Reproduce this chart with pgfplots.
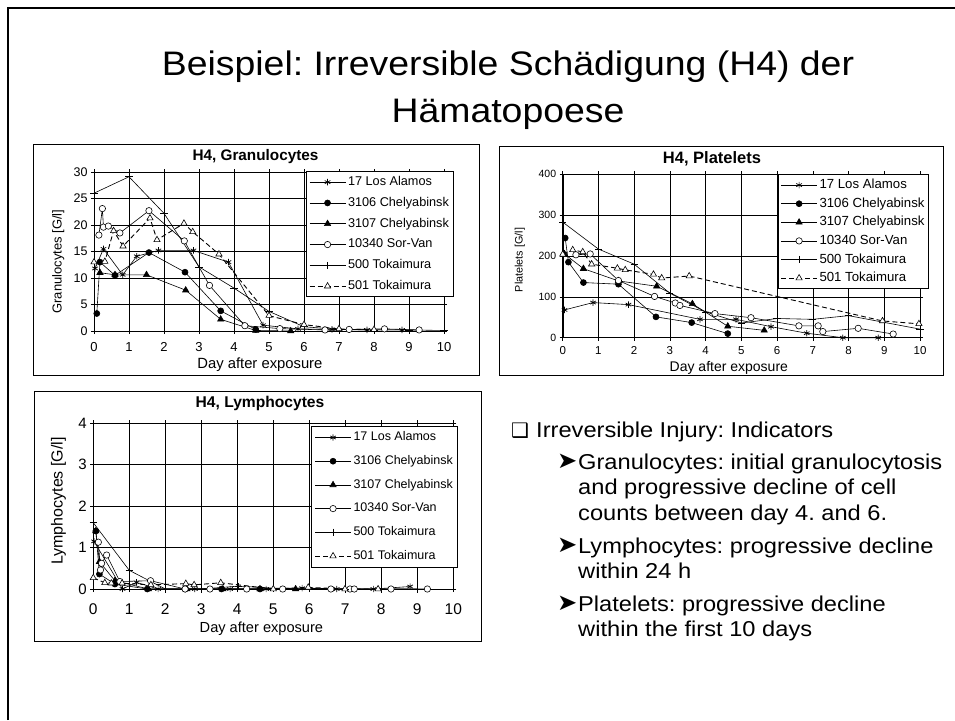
\documentclass[border=0pt]{standalone}
\usepackage{pgfplots}
\pgfplotsset{compat=1.18}
\usepackage{fontspec}
\setmainfont{Liberation Sans}
\newfontfamily\slidefont[FakeStretch=1.1]{Liberation Sans}
\newfontfamily\symfont{DejaVu Sans}
\newcommand{\fs}[1]{\fontsize{#1pt}{#1pt}\selectfont}
\frenchspacing

\pgfplotsset{
  panel/.style={
    scale only axis, anchor=south west, clip=false,
    xmin=0, xmax=10, xtick={0,...,10},
    grid=major, major grid style={black, line width=0.6pt},
    axis line style={black, line width=0.8pt},
    tick align=outside, major tick length=3pt,
    tick style={black, line width=0.6pt},
    /pgf/number format/assume math mode=true,
    legend cell align=left,
    legend image code/.code={\draw[mark repeat=2,mark phase=2,##1] plot coordinates {(0pt,0pt) (18pt,0pt) (36pt,0pt)};},
  },
  LA/.style={black, line width=0.6pt, mark=asterisk, mark size=3.2pt, mark options={solid,line width=0.7pt}},
  CA/.style={black, line width=0.6pt, mark=*, mark size=3pt, mark options={solid, fill=black}},
  CB/.style={black, line width=0.6pt, mark=triangle*, mark size=3.6pt, mark options={solid, fill=black}},
  SV/.style={black, line width=0.6pt, mark=*, mark size=3.2pt, mark options={solid, fill=white, draw=black}},
  TA/.style={black, line width=0.6pt, mark=+, mark size=3.6pt, mark options={solid}},
  TB/.style={black, line width=0.9pt, dash pattern=on 5pt off 3pt, mark=triangle*, mark size=3.6pt, mark options={solid, fill=white, line width=0.6pt}},
}

\begin{document}
\begin{tikzpicture}
\fill[white] (0pt,0pt) rectangle (955pt,-720pt);
\draw[black, line width=2pt] (8pt,-720pt) -- (8pt,-8pt) -- (955pt,-8pt);

% slide title
\node[anchor=base, inner sep=0pt, font=\slidefont\fs{34}] at (508pt,-75pt) {Beispiel: Irreversible Schädigung (H4) der};
\node[anchor=base, inner sep=0pt, font=\slidefont\fs{34}] at (508pt,-122pt) {Hämatopoese};

% panel frames
\draw[black, line width=1pt, fill=white] (33pt,-144pt) rectangle (479pt,-375pt);
\draw[black, line width=1pt, fill=white] (499pt,-146pt) rectangle (943pt,-375pt);
\draw[black, line width=1pt, fill=white] (34pt,-391pt) rectangle (481pt,-641pt);

% panel titles
\node[font=\bfseries\fs{15.3}, inner sep=0pt] at (255.5pt,-157pt) {H4, Granulocytes};
\node[font=\bfseries\fs{16.5}, inner sep=0pt] at (712pt,-159pt) {H4, Platelets};
\node[font=\bfseries\fs{15.6}, inner sep=0pt] at (260pt,-403pt) {H4, Lymphocytes};

% ---------------- Granulocytes
\begin{axis}[panel, at={(94pt,-331pt)}, width=350pt, height=159pt,
  ymin=0, ymax=30, ytick={0,5,...,30},
  xticklabel style={font=\fs{13}, yshift=-5pt}, yticklabel style={font=\fs{12.5}},
  xlabel={Day after exposure}, xlabel style={font=\fs{14.8}, at={(axis description cs:0.474,-0.214)}, anchor=center},
  ylabel={Granulocytes [G/l]}, ylabel style={font=\fs{13}, at={(axis description cs:-0.102,0.437)}, anchor=center},
  legend style={at={(0.606,1.006)}, anchor=north west, draw=black, line width=1pt, fill=white,
    font=\fs{12.7}, row sep=4.6pt, inner sep=2.5pt, nodes={inner sep=2pt, text height=9.5pt, text depth=2.7pt}},
]
\addplot[LA] coordinates {(0.03,11.8) (0.27,15.5) (0.82,10.6) (1.22,14.1) (1.84,15.2) (2.84,15.2) (3.84,13.0) (4.83,1.1) (5.83,0.4) (6.8,0.3) (7.8,0.2) (8.8,0.2)};
\addlegendentry{17 Los Alamos}
\addplot[CA] coordinates {(0.08,3.3) (0.17,13.0) (0.6,10.5) (1.57,14.8) (2.6,11.1) (3.62,3.8) (4.62,0.3)};
\addlegendentry{3106 Chelyabinsk}
\addplot[CB] coordinates {(0.17,11.0) (0.6,10.6) (1.5,10.6) (2.62,7.7) (3.62,2.2) (4.62,0.1) (5.62,0.0)};
\addlegendentry{3107 Chelyabinsk}
\addplot[SV] coordinates {(0.14,18.1) (0.24,23.1) (0.27,19.6) (0.41,19.8) (0.74,18.5) (1.57,22.7) (2.58,17.0) (3.3,8.6) (4.31,1.0) (5.31,0.45) (6.6,0.2) (7.29,0.3) (8.3,0.4) (9.29,0.2)};
\addlegendentry{10340 Sor-Van}
\addplot[TA] coordinates {(0,26.0) (1.0,29.1) (2.0,22.2) (3.0,12.1) (4.0,8.1) (5.0,3.7) (6.0,0.8) (7.0,0.3) (8.0,0.2) (9.0,0.2) (10.0,0.1)};
\addlegendentry{500 Tokaimura}
\addplot[TB] coordinates {(0,13.0) (0.31,13.1) (0.56,18.9) (0.83,16.0) (1.6,21.3) (1.8,17.2) (2.57,20.3) (2.82,18.7) (3.57,14.5) (5.0,2.9) (6.0,1.2) (7.0,0.4) (8.0,0.25)};
\addlegendentry{501 Tokaimura}
\end{axis}

% ---------------- Platelets
\begin{axis}[panel, at={(562.7pt,-337.7pt)}, width=357.3pt, height=163.4pt,
  ymin=0, ymax=400, ytick={0,100,...,400},
  xticklabel style={font=\fs{11.5}, yshift=-2pt}, yticklabel style={font=\fs{10.5}},
  xlabel={Day after exposure}, xlabel style={font=\fs{14}, at={(axis description cs:0.465,-0.182)}, anchor=center},
  ylabel={Platelets [G/l]}, ylabel style={font=\fs{10.8}, at={(axis description cs:-0.12,0.475)}, anchor=center},
  legend style={at={(0.603,1.0)}, anchor=north west, draw=black, line width=1pt, fill=white,
    font=\fs{13.2}, row sep=2pt, inner sep=2pt, nodes={inner sep=2pt, text height=9.8pt, text depth=2.8pt}},
]
\draw[black, line width=2pt] (rel axis cs:0,0) -- (rel axis cs:0,1);
\addplot[LA] coordinates {(0.05,68) (0.85,86) (1.84,81) (3.84,45) (4.85,45) (5.83,27) (6.83,11) (7.84,0) (8.83,0)};
\addlegendentry{17 Los Alamos}
\addplot[CA] coordinates {(0.07,244) (0.16,185) (0.58,135) (1.56,131) (2.61,51) (3.61,37) (4.62,10)};
\addlegendentry{3106 Chelyabinsk}
\addplot[CB] coordinates {(0.05,205) (0.58,169) (1.56,139) (2.63,126) (3.63,83) (4.62,28) (5.64,18)};
\addlegendentry{3107 Chelyabinsk}
\addplot[SV] coordinates {(0.37,203) (0.77,205) (1.56,140) (2.57,101) (3.15,85) (3.28,79) (4.26,59) (5.27,49) (6.61,29) (7.15,29) (7.28,15) (8.27,23) (9.25,9)};
\addlegendentry{10340 Sor-Van}
\addplot[TA] coordinates {(0,283) (1.0,217) (2.0,180) (3.0,109) (4.0,63) (5.0,36) (6.0,47) (7.0,45) (8.0,54) (10.0,21)};
\addlegendentry{500 Tokaimura}
\addplot[TB] coordinates {(0,204) (0.28,215) (0.56,210) (0.81,180) (1.53,170) (1.75,166) (2.54,155) (2.77,146) (3.54,151) (8.95,41) (9.97,34)};
\addlegendentry{501 Tokaimura}
\end{axis}

% ---------------- Lymphocytes
\begin{axis}[panel, at={(93.3pt,-589pt)}, width=360pt, height=165.7pt,
  ymin=0, ymax=4, ytick={0,1,...,4},
  xticklabel style={font=\fs{15.5}, yshift=-8pt}, yticklabel style={font=\fs{15}},
  xlabel={Day after exposure}, xlabel style={font=\fs{14.6}, at={(axis description cs:0.467,-0.241)}, anchor=center},
  ylabel={Lymphocytes [G/l]}, ylabel style={font=\fs{16}, at={(axis description cs:-0.097,0.531)}, anchor=center},
  legend style={at={(0.605,0.984)}, anchor=north west, draw=black, line width=1pt, fill=white,
    font=\fs{12.5}, row sep=7.6pt, inner sep=3pt, nodes={inner sep=2pt, text height=9.4pt, text depth=2.7pt}},
]
\addplot[LA] coordinates {(0.02,1.15) (0.81,0.0) (1.2,0.16) (1.8,0.0) (2.82,0.0) (3.8,0.0) (4.8,0.0) (5.8,0.02) (6.76,0.0) (7.78,0.0) (8.8,0.06)};
\addlegendentry{17 Los Alamos}
\addplot[CA] coordinates {(0.07,1.4) (0.17,0.36) (0.6,0.12) (1.5,0.0) (2.55,0.0) (3.56,0.0) (4.63,0.0)};
\addlegendentry{3106 Chelyabinsk}
\addplot[CB] coordinates {(0.07,1.4) (0.17,0.66) (0.6,0.2) (1.53,0.0) (2.6,0.0) (3.6,0.0) (4.63,0.0) (5.62,0.0)};
\addlegendentry{3107 Chelyabinsk}
\addplot[SV] coordinates {(0.14,1.13) (0.2,0.46) (0.23,0.62) (0.37,0.82) (0.74,0.18) (1.59,0.2) (2.55,0.0) (3.24,0.0) (4.26,0.0) (5.26,0.0) (6.6,0.0) (7.13,0.0) (7.25,0.0) (8.27,0.0) (9.28,0.0)};
\addlegendentry{10340 Sor-Van}
\addplot[TA] coordinates {(0,1.6) (1.0,0.45) (2.0,0.0) (3.0,0.0) (4.03,0.07) (5.0,0.02) (6.0,0.02) (7.0,0.0) (8.0,0.0) (9.0,0.0)};
\addlegendentry{500 Tokaimura}
\addplot[TB] coordinates {(0,0.27) (0.32,0.15) (0.5,0.14) (0.8,0.14) (1.6,0.1) (2.57,0.13) (2.8,0.1) (3.54,0.15) (5.0,0.0) (5.97,0.04) (6.99,0.0) (7.91,0.0)};
\addlegendentry{501 Tokaimura}
\end{axis}

% bullet text
\node[anchor=base west, inner sep=0pt, font=\symfont\fs{20}] at (511pt,-437pt) {❑};
\node[anchor=base west, inner sep=0pt, font=\slidefont\fs{21.5}] at (536pt,-437pt) {Irreversible Injury: Indicators};
\foreach \y in {469,553,611} {
  \node[anchor=base west, inner sep=0pt, font=\symfont\fs{23}, xscale=1.05] at (557pt,{-\y pt+1pt}) {➤};
}
\begin{scope}[every node/.style={anchor=base west, inner sep=0pt, font=\slidefont\fs{21.5}}]
\node at (578pt,-469pt) {Granulocytes: initial granulocytosis};
\node at (578pt,-494.5pt) {and progressive decline of cell};
\node at (578pt,-520pt) {counts between day 4. and 6.};
\node at (578pt,-553pt) {Lymphocytes: progressive decline};
\node at (578pt,-578.5pt) {within 24 h};
\node at (578pt,-611pt) {Platelets: progressive decline};
\node at (578pt,-636.5pt) {within the first 10 days};
\end{scope}

\pgfresetboundingbox
\useasboundingbox (0pt,0pt) rectangle (955pt,-720pt);
\end{tikzpicture}
\end{document}
